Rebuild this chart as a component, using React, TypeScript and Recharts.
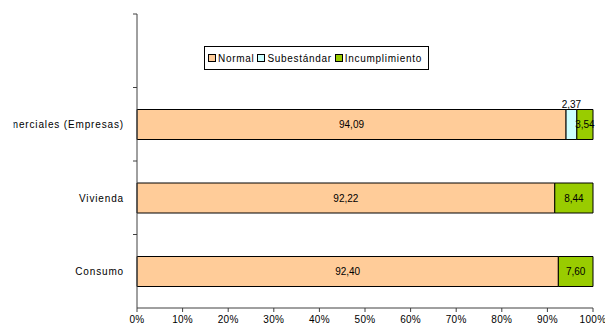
import { Bar, BarChart, LabelList, XAxis, YAxis } from "recharts"

const categories = ["", "Comerciales (Empresas)", "Vivienda", "Consumo"]
const normal = [null, 94.09, 92.22, 92.4]
const subestandar = [null, 2.37, null, null]
const incumplimiento = [null, 3.54, 8.44, 7.6]
const xTicks = [0, 0.1, 0.2, 0.3, 0.4, 0.5, 0.6, 0.7, 0.8, 0.9, 1]

const series = [
  { key: "normal", name: "Normal", color: "#FFCC99" },
  { key: "subestandar", name: "Subestándar", color: "#CCFFFF" },
  { key: "incumplimiento", name: "Incumplimiento", color: "#99CC00" },
]

const data = categories.map((name, i) => ({
  name,
  normal: normal[i],
  subestandar: subestandar[i],
  incumplimiento: incumplimiento[i],
}))

const font = "'Liberation Sans', Arial, sans-serif"
const yTickMargin = 13

const fmt = (v: any) => (v == null || v === 0 ? "" : Number(v).toFixed(2).replace(".", ","))

// single-line category label, plus the little boundary tick above each band
function CategoryTick(props: any) {
  const { x, y, payload, height } = props
  const band = height ? height / categories.length : 74
  const ax = x + yTickMargin
  return (
    <g>
      <line x1={ax - 4} x2={ax} y1={y - band / 2} y2={y - band / 2} stroke="#404040" />
      <text
        x={x}
        y={y}
        dy={4}
        textAnchor="end"
        fill="#000"
        fontSize={10}
        fontFamily={font}
        letterSpacing={0.85}
        clipPath="url(#labelClip)"
      >
        {payload.value}
      </text>
    </g>
  )
}

function LegendBox() {
  return (
    <div
      style={{
        position: "absolute",
        top: 46,
        left: 204,
        border: "1px solid #000",
        background: "#fff",
        display: "flex",
        alignItems: "center",
        height: 24,
        padding: "0 3px",
        fontFamily: font,
        fontSize: 10,
        letterSpacing: 0.7,
        color: "#000",
        boxSizing: "border-box",
      }}
    >
      {series.map((s) => (
        <span key={s.key} style={{ display: "flex", alignItems: "center", marginRight: 3 }}>
          <span
            style={{
              width: 6,
              height: 6,
              background: s.color,
              border: "1px solid #000",
              display: "inline-block",
              marginRight: 2,
            }}
          />
          {s.name}
        </span>
      ))}
    </div>
  )
}

export default function App() {
  return (
    <div style={{ position: "absolute", top: 0, left: 0, width: 605, height: 333, background: "#fff" }}>
      <BarChart
        width={605}
        height={333}
        data={data}
        layout="vertical"
        stackOffset="expand"
        barSize={30}
        margin={{ top: 14, right: 12, bottom: 0, left: 0 }}
      >
        <defs>
          <clipPath id="labelClip">
            <rect x={13.5} y={0} width={124} height={333} />
          </clipPath>
        </defs>
        <XAxis
          type="number"
          domain={[0, 1]}
          ticks={xTicks}
          tickFormatter={(v: number) => `${Math.round(v * 100)}%`}
          axisLine={{ stroke: "#404040" }}
          tickLine={{ stroke: "#404040" }}
          tickSize={4}
          tickMargin={4}
          height={25}
          interval={0}
          tick={{ fill: "#000", fontSize: 10, fontFamily: font, letterSpacing: 0.3 }}
        />
        <YAxis
          type="category"
          dataKey="name"
          width={137}
          axisLine={{ stroke: "#404040" }}
          tickLine={false}
          tickSize={0}
          tickMargin={yTickMargin}
          interval={0}
          tick={<CategoryTick />}
        />
        {series.map((s) => (
          <Bar
            key={s.key}
            dataKey={s.key}
            name={s.name}
            stackId="a"
            fill={s.color}
            stroke="#000"
            strokeWidth={1}
            isAnimationActive={false}
          >
            <LabelList
              dataKey={s.key}
              position={s.key === "subestandar" ? "top" : "center"}
              offset={s.key === "subestandar" ? 2 : 5}
              formatter={fmt}
              fill="#000"
              fontSize={10}
              fontFamily={font}
            />
          </Bar>
        ))}
      </BarChart>
      <LegendBox />
    </div>
  )
}
